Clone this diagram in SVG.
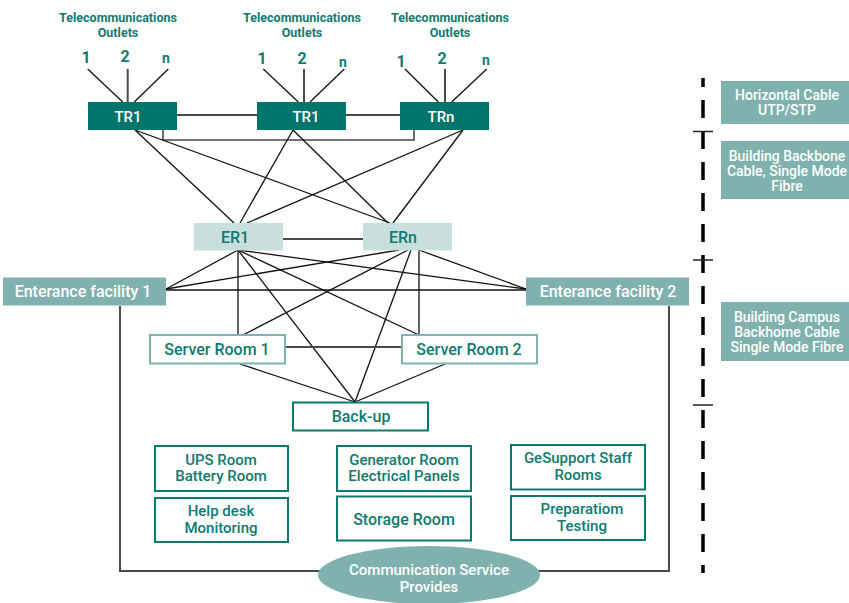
<svg xmlns="http://www.w3.org/2000/svg" width="849" height="603" viewBox="0 0 849 603">
<style>
text{font-family:Roboto,"Liberation Sans",sans-serif;text-anchor:middle}
.hd{font-size:12.5px;font-weight:700;fill:#137a70}
.num{font-size:16px;font-weight:700;fill:#137a70}
.wt{font-size:15px;font-weight:500;fill:#fff}
.wl{font-size:16px;font-weight:500;fill:#fff}
.tl{font-size:16px;font-weight:500;fill:#0e7a70}
.t2{font-size:15px;font-weight:500;fill:#0e7a70}
.w2{font-size:15px;font-weight:500;fill:#fff}
.lg{font-size:14px;font-weight:500;fill:#fff}
.dark{fill:#00756b}
.light{fill:#7fb2ae}
.er{fill:#c9dfdd}
.bl{fill:#fff;stroke:#7fb3ae;stroke-width:2}
.bd{fill:#fff;stroke:#0a7a6f;stroke-width:2}
.c{stroke:#111;stroke-width:1.3;fill:none}
.g{stroke:#4a4a4a;stroke-width:2;fill:none}
</style>
<g id="connectors">
<line class="c" x1="87.7" y1="69" x2="122.7" y2="102"/>
<line class="g" x1="127.7" y1="69" x2="127.7" y2="102"/>
<line class="c" x1="168.3" y1="69" x2="134.3" y2="102"/>
<line class="c" x1="263.3" y1="69" x2="298.3" y2="102"/>
<line class="g" x1="304" y1="69" x2="304" y2="102"/>
<line class="c" x1="344.3" y1="69" x2="310" y2="102"/>
<line class="c" x1="405" y1="69" x2="438.3" y2="102"/>
<line class="g" x1="445" y1="69" x2="445" y2="102"/>
<line class="c" x1="486.7" y1="69" x2="451.7" y2="102"/>
<line class="g" x1="177" y1="115" x2="257" y2="115"/>
<line class="g" x1="346" y1="115" x2="400" y2="115"/>
<polyline class="g" style="stroke-width:1.6" points="163,130 163,140 414,140 414,130"/>
<line class="c" x1="135" y1="130" x2="234" y2="223"/>
<line class="c" x1="135" y1="130" x2="390" y2="223"/>
<line class="c" x1="293" y1="130" x2="240" y2="223"/>
<line class="c" x1="293" y1="130" x2="388" y2="223"/>
<line class="c" x1="463" y1="130" x2="247" y2="223"/>
<line class="c" x1="463" y1="130" x2="393" y2="223"/>
<line class="g" x1="283" y1="239" x2="363" y2="239"/>
<line class="c" x1="238" y1="250" x2="166" y2="289"/>
<line class="c" x1="238" y1="250" x2="238" y2="335"/>
<line class="c" x1="238" y1="250" x2="355" y2="402"/>
<line class="c" x1="238" y1="250" x2="419" y2="335"/>
<line class="c" x1="238" y1="250" x2="526" y2="289"/>
<line class="c" x1="399" y1="250" x2="166" y2="289"/>
<line class="c" x1="408" y1="250" x2="243" y2="335"/>
<line class="c" x1="411" y1="250" x2="355" y2="402"/>
<line class="c" x1="419" y1="250" x2="419" y2="335"/>
<line class="c" x1="419" y1="250" x2="526" y2="289"/>
<line class="c" x1="166" y1="290" x2="526" y2="290"/>
<line class="g" x1="285" y1="347" x2="402" y2="347"/>
<line class="c" x1="240" y1="364" x2="355" y2="402"/>
<line class="c" x1="445" y1="364" x2="355" y2="402"/>
<polyline class="g" points="120,306 120,571 669,571 669,306"/>
</g>
<g id="outlets1">
<text class="hd" x="118" y="21.5">Telecommunications</text>
<text class="hd" x="118" y="37">Outlets</text>
<text class="num" x="86" y="62.5">1</text>
<text class="num" x="125" y="61.5">2</text>
<text class="num" x="166" y="62.5" style="font-size:14px">n</text>
</g>
<g id="outlets2">
<text class="hd" x="302" y="21.5">Telecommunications</text>
<text class="hd" x="302" y="37">Outlets</text>
<text class="num" x="262" y="64">1</text>
<text class="num" x="302" y="64">2</text>
<text class="num" x="343" y="66.5" style="font-size:14px">n</text>
</g>
<g id="outlets3">
<text class="hd" x="450" y="21.5">Telecommunications</text>
<text class="hd" x="450" y="37">Outlets</text>
<text class="num" x="401" y="66.5">1</text>
<text class="num" x="442" y="64">2</text>
<text class="num" x="486" y="65" style="font-size:14px">n</text>
</g>
<g id="tr1"><rect class="dark" x="88" y="102" width="89" height="28"/><text class="wt" x="128" y="121.5">TR1</text></g>
<g id="tr2"><rect class="dark" x="257" y="102" width="89" height="28"/><text class="wt" x="306" y="121.5">TR1</text></g>
<g id="trn"><rect class="dark" x="400" y="102" width="89" height="28"/><text class="wt" x="441" y="121.5">TRn</text></g>
<g id="er1"><rect class="er" x="194" y="223" width="89" height="27.5"/><text class="tl" x="235" y="242.5">ER1</text></g>
<g id="ern"><rect class="er" x="363" y="223" width="89" height="27.5"/><text class="tl" x="403" y="242.5">ERn</text></g>
<g id="ef1"><rect class="light" x="3" y="277.5" width="163" height="28"/><text class="wl" x="83" y="297">Enterance facility 1</text></g>
<g id="ef2"><rect class="light" x="526" y="277.5" width="163" height="28"/><text class="wl" x="608" y="297">Enterance facility 2</text></g>
<g id="sr1"><rect class="bl" x="150" y="335" width="135" height="28.5"/><text class="tl" x="217" y="355">Server Room 1</text></g>
<g id="sr2"><rect class="bl" x="402" y="335" width="135" height="28.5"/><text class="tl" x="469" y="355">Server Room 2</text></g>
<g id="backup"><rect class="bd" x="293" y="402.5" width="135" height="28"/><text class="tl" x="361" y="422">Back-up</text></g>
<g id="ups"><rect class="bd" x="155" y="446" width="133" height="45"/><text class="t2" x="221" y="464.5">UPS Room</text><text class="t2" x="221" y="481">Battery Room</text></g>
<g id="helpdesk"><rect class="bd" x="155" y="498" width="133" height="44"/><text class="t2" x="221" y="516">Help desk</text><text class="t2" x="221" y="532.5">Monitoring</text></g>
<g id="generator"><rect class="bd" x="337" y="446" width="134" height="45"/><text class="t2" x="404" y="464.5">Generator Room</text><text class="t2" x="404" y="481">Electrical Panels</text></g>
<g id="storage"><rect class="bd" x="337" y="496.5" width="134" height="44"/><text class="tl" x="404" y="525">Storage Room</text></g>
<g id="gesupport"><rect class="bd" x="511" y="445" width="134" height="44.5"/><text class="t2" x="578" y="463">GeSupport Staff</text><text class="t2" x="578" y="479.5">Rooms</text></g>
<g id="preparation"><rect class="bd" x="511" y="496" width="134" height="44"/><text class="t2" x="582" y="514">Preparatiom</text><text class="t2" x="582" y="530.5">Testing</text></g>
<g id="comm"><ellipse class="light" cx="429" cy="575" rx="111" ry="29"/><text class="w2" x="429" y="575">Communication Service</text><text class="w2" x="429" y="591.5">Provides</text></g>
<g id="legend">
<line x1="703" y1="78" x2="703" y2="573" stroke="#000" stroke-width="3.5" stroke-dasharray="18 13" stroke-dashoffset="9"/>
<line x1="693" y1="131.5" x2="713" y2="131.5" stroke="#222" stroke-width="1.5"/>
<line x1="693" y1="260" x2="713" y2="260" stroke="#222" stroke-width="1.5"/>
<line x1="693" y1="405" x2="713" y2="405" stroke="#222" stroke-width="1.5"/>
</g>
<g id="leg1"><rect class="light" x="721" y="81" width="128" height="43"/><text class="lg" x="787" y="100">Horizontal Cable</text><text class="lg" x="787" y="115">UTP/STP</text></g>
<g id="leg2"><rect class="light" x="721" y="141" width="128" height="58"/><text class="lg" x="787" y="160.5">Building Backbone</text><text class="lg" x="787" y="175.5">Cable, Single Mode</text><text class="lg" x="787" y="191">Fibre</text></g>
<g id="leg3"><rect class="light" x="721" y="302" width="128" height="59"/><text class="lg" x="787" y="321.5">Building Campus</text><text class="lg" x="787" y="336.5">Backhome Cable</text><text class="lg" x="787" y="352">Single Mode Fibre</text></g>
</svg>
